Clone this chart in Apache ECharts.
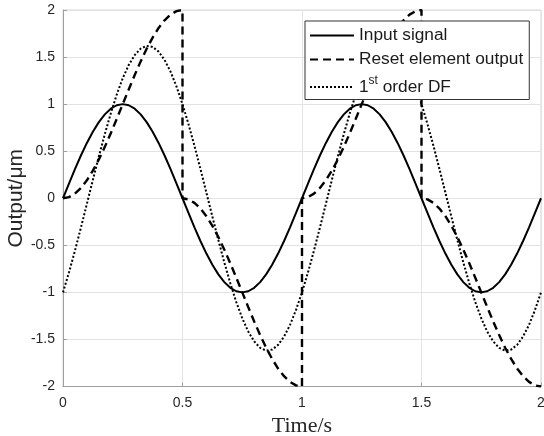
<!DOCTYPE html>
<html>
<head>
<meta charset="utf-8">
<script src="https://cdn.jsdelivr.net/npm/echarts@6/dist/echarts.min.js"></script>
<style>html,body{margin:0;padding:0;background:#fff;}#c{width:544px;height:436px;}</style>
</head>
<body>
<div id="c"></div>
<script>
var seriesNames = ['Input signal', 'Reset element output', '1st order DF'];
var xTicks = [0, 0.5, 1, 1.5, 2];
var yTicks = [-2, -1.5, -1, -0.5, 0, 0.5, 1, 1.5, 2];

var time = [0,0.025,0.05,0.075,0.1,0.125,0.15,0.175,0.2,0.225,0.25,0.275,0.3,0.325,0.35,0.375,0.4,0.425,0.45,0.475,
0.5,0.525,0.55,0.575,0.6,0.625,0.65,0.675,0.7,0.725,0.75,0.775,0.8,0.825,0.85,0.875,0.9,0.925,0.95,0.975,
1,1.025,1.05,1.075,1.1,1.125,1.15,1.175,1.2,1.225,1.25,1.275,1.3,1.325,1.35,1.375,1.4,1.425,1.45,1.475,
1.5,1.525,1.55,1.575,1.6,1.625,1.65,1.675,1.7,1.725,1.75,1.775,1.8,1.825,1.85,1.875,1.9,1.925,1.95,1.975,2];

var inputSignal = [0,0.156,0.309,0.454,0.588,0.707,0.809,0.891,0.951,0.988,1,0.988,0.951,0.891,0.809,0.707,0.588,0.454,0.309,0.156,
0,-0.156,-0.309,-0.454,-0.588,-0.707,-0.809,-0.891,-0.951,-0.988,-1,-0.988,-0.951,-0.891,-0.809,-0.707,-0.588,-0.454,-0.309,-0.156,
0,0.156,0.309,0.454,0.588,0.707,0.809,0.891,0.951,0.988,1,0.988,0.951,0.891,0.809,0.707,0.588,0.454,0.309,0.156,
0,-0.156,-0.309,-0.454,-0.588,-0.707,-0.809,-0.891,-0.951,-0.988,-1,-0.988,-0.951,-0.891,-0.809,-0.707,-0.588,-0.454,-0.309,-0.156,0];

var orderDF = [-1.000,-0.788,-0.557,-0.312,-0.059,0.195,0.444,0.682,0.903,1.103,1.275,1.416,1.521,1.590,1.619,1.608,1.558,1.469,1.345,1.186,
1.000,0.788,0.557,0.312,0.059,-0.195,-0.444,-0.682,-0.903,-1.103,-1.275,-1.416,-1.521,-1.590,-1.619,-1.608,-1.558,-1.469,-1.345,-1.186,
-1.000,-0.788,-0.557,-0.312,-0.059,0.195,0.444,0.682,0.903,1.103,1.275,1.416,1.521,1.590,1.619,1.608,1.558,1.469,1.345,1.186,
1.000,0.788,0.557,0.312,0.059,-0.195,-0.444,-0.682,-0.903,-1.103,-1.275,-1.416,-1.521,-1.590,-1.619,-1.608,-1.558,-1.469,-1.345,-1.186,-1.000];

var resetTime = [0,0.025,0.05,0.075,0.1,0.125,0.15,0.175,0.2,0.225,0.25,0.275,0.3,0.325,0.35,0.375,0.4,0.425,0.45,0.475,0.5,
0.5,0.525,0.55,0.575,0.6,0.625,0.65,0.675,0.7,0.725,0.75,0.775,0.8,0.825,0.85,0.875,0.9,0.925,0.95,0.975,1,
1,1.025,1.05,1.075,1.1,1.125,1.15,1.175,1.2,1.225,1.25,1.275,1.3,1.325,1.35,1.375,1.4,1.425,1.45,1.475,1.5,
1.5,1.525,1.55,1.575,1.6,1.625,1.65,1.675,1.7,1.725,1.75,1.775,1.8,1.825,1.85,1.875,1.9,1.925,1.95,1.975,2];

var resetOutput = [0,0.012,0.049,0.109,0.191,0.293,0.412,0.546,0.691,0.844,1,1.156,1.309,1.454,1.588,1.707,1.809,1.891,1.951,1.988,2,
0,-0.012,-0.049,-0.109,-0.191,-0.293,-0.412,-0.546,-0.691,-0.844,-1,-1.156,-1.309,-1.454,-1.588,-1.707,-1.809,-1.891,-1.951,-1.988,-2,
0,0.012,0.049,0.109,0.191,0.293,0.412,0.546,0.691,0.844,1,1.156,1.309,1.454,1.588,1.707,1.809,1.891,1.951,1.988,2,
0,-0.012,-0.049,-0.109,-0.191,-0.293,-0.412,-0.546,-0.691,-0.844,-1,-1.156,-1.309,-1.454,-1.588,-1.707,-1.809,-1.891,-1.951,-1.988,-2];

function pairs(xs, ys) { return xs.map(function (x, i) { return [x, ys[i]]; }); }

var chart = echarts.init(document.getElementById('c'), null, {renderer: 'canvas'});
var labelFont = {color: '#262626', fontSize: 14, fontFamily: 'Liberation Sans, Arial, sans-serif'};
chart.setOption({
  animation: false,
  backgroundColor: '#ffffff',
  grid: {left: 63, right: 3, top: 10, bottom: 49.5, containLabel: false, outerBoundsMode: 'none',
    show: true, borderColor: '#d4d4d4', borderWidth: 1},
  xAxis: {
    type: 'value', min: xTicks[0], max: xTicks[xTicks.length - 1], interval: 0.5,
    name: 'Time/s', nameLocation: 'middle', nameGap: 29, nameMoveOverlap: false,
    nameTextStyle: {fontFamily: 'Liberation Serif, Times New Roman, serif', fontSize: 22, color: '#262626'},
    axisLine: {show: true, onZero: false, lineStyle: {color: '#a0a0a0', width: 1}},
    axisTick: {show: true, inside: true, length: 4, lineStyle: {color: '#a0a0a0'}},
    axisLabel: Object.assign({margin: 10, formatter: function (v) { return String(v); }}, labelFont),
    splitLine: {show: true, lineStyle: {color: '#e3e3e3', width: 1}}
  },
  yAxis: {
    type: 'value', min: yTicks[0], max: yTicks[yTicks.length - 1], interval: 0.5,
    name: 'Output/μm', nameLocation: 'middle', nameGap: 36, nameRotate: 90, nameMoveOverlap: false,
    nameTextStyle: {fontFamily: 'Liberation Sans, Arial, sans-serif', fontSize: 21, color: '#262626'},
    axisLine: {show: true, onZero: false, lineStyle: {color: '#a0a0a0', width: 1}},
    axisTick: {show: true, inside: true, length: 4, lineStyle: {color: '#a0a0a0'}},
    axisLabel: Object.assign({margin: 8, formatter: function (v) { return String(v); }}, labelFont),
    splitLine: {show: true, lineStyle: {color: '#e3e3e3', width: 1}}
  },
  legend: {
    orient: 'vertical', left: 305, top: 21,
    itemWidth: 44, itemHeight: 14, itemGap: 7,
    padding: [6, 6, 4, 4],
    backgroundColor: '#ffffff', borderColor: '#333333', borderWidth: 1, borderRadius: 0,
    itemStyle: {opacity: 0},
    data: seriesNames,
    textStyle: {
      fontSize: 17.3, color: '#1a1a1a', fontFamily: 'Liberation Sans, Arial, sans-serif',
      rich: {sup: {fontSize: 12, verticalAlign: 'top', padding: [0, 0, 12, 0], fontFamily: 'Liberation Sans, Arial, sans-serif', color: '#1a1a1a'}}
    },
    formatter: function (n) { return n === '1st order DF' ? '1{sup|st} order DF' : n; }
  },
  series: [
    {name: seriesNames[0], type: 'line', showSymbol: false, symbol: 'none', data: pairs(time, inputSignal),
      lineStyle: {color: '#000', width: 2, type: 'solid'}, itemStyle: {color: '#000'}, z: 3},
    {name: seriesNames[1], type: 'line', showSymbol: false, symbol: 'none', data: pairs(resetTime, resetOutput),
      lineStyle: {color: '#000', width: 2.4, type: [8, 5]}, itemStyle: {color: '#000'}, z: 2},
    {name: seriesNames[2], type: 'line', showSymbol: false, symbol: 'none', data: pairs(time, orderDF),
      lineStyle: {color: '#000', width: 2, type: [2, 2]}, itemStyle: {color: '#000'}, z: 1}
  ]
});
</script>
</body>
</html>
